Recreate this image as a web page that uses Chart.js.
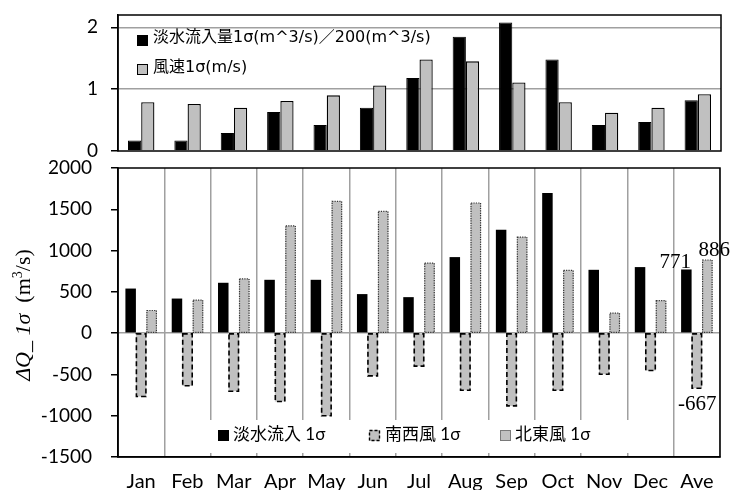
<!DOCTYPE html>
<html>
<head>
<meta charset="utf-8">
<script src="https://cdn.jsdelivr.net/npm/chart.js@4.4.1/dist/chart.umd.min.js"></script>
<style>
  html, body { margin: 0; padding: 0; background: #fff; }
  #wrap { position: relative; width: 734px; height: 490px; overflow: hidden; }
  #topChart { position: absolute; left: 0; top: -15px; }
  #bottomChart { position: absolute; left: 0; top: 130px; }
</style>
</head>
<body>
<div id="wrap">
  <canvas id="topChart" width="734" height="196"></canvas>
  <canvas id="bottomChart" width="734" height="360"></canvas>
</div>
<script>
// Months plus the annual average
const months = ['Jan', 'Feb', 'Mar', 'Apr', 'May', 'Jun', 'Jul', 'Aug', 'Sep', 'Oct', 'Nov', 'Dec', 'Ave'];

// Upper panel: standard deviations (scaled inflow, wind speed)
const inflowScaled = [0.17, 0.17, 0.29, 0.63, 0.42, 0.70, 1.18, 1.85, 2.08, 1.48, 0.42, 0.47, 0.82];
const windSpeed    = [0.79, 0.76, 0.70, 0.81, 0.90, 1.06, 1.48, 1.45, 1.11, 0.79, 0.62, 0.70, 0.92];
const topTicks = [0, 1, 2];

// Lower panel: ΔQ standard deviations (m^3/s)
const inflowSigma = [540, 419, 610, 646, 646, 473, 436, 921, 1252, 1697, 767, 800, 771];
const swWindSigma = [-768, -638, -703, -828, -1001, -517, -400, -691, -881, -691, -497, -453, -667];
const neWindSigma = [274, 400, 658, 1300, 1595, 1474, 848, 1576, 1164, 759, 242, 395, 886];
const bottomTicks = [-1500, -1000, -500, 0, 500, 1000, 1500, 2000];

const topLegend = ['淡水流入量1σ(m^3/s)／200(m^3/s)', '風速1σ(m/s)'];
const bottomLegend = ['淡水流入 1σ', '南西風 1σ', '北東風 1σ'];

const GRAY = '#c0c0c0';
const GRID = '#a0a0a0';
const TICK_FONT = 'Lato, "Noto Sans CJK JP", sans-serif';
const TOP_LEGEND_FONT = '"DejaVu Sans", "Noto Sans CJK JP", sans-serif';
const LEGEND_FONT = 'Lato, "Noto Sans CJK JP", sans-serif';

// Black frame round the plot area
const framePlugin = {
  id: 'frame',
  afterDraw(chart) {
    const { ctx, chartArea: a } = chart;
    ctx.save();
    ctx.strokeStyle = '#000';
    ctx.lineWidth = 1.5;
    ctx.strokeRect(a.left, a.top, a.right - a.left, a.bottom - a.top);
    ctx.restore();
  }
};

// Legend inside the upper plot
const topLegendPlugin = {
  id: 'topLegend',
  afterDraw(chart) {
    const ctx = chart.ctx;
    const top = chart.chartArea.top;
    ctx.save();
    ctx.font = '16px ' + TOP_LEGEND_FONT;
    ctx.textBaseline = 'middle';
    ctx.fillStyle = '#000';
    ctx.fillRect(137, top + 20, 11, 11);
    ctx.fillText(topLegend[0], 153, top + 23);
    ctx.fillStyle = GRAY;
    ctx.fillRect(137, top + 49, 11, 11);
    ctx.strokeStyle = '#000';
    ctx.lineWidth = 1;
    ctx.strokeRect(137.5, top + 49.5, 10, 10);
    ctx.fillStyle = '#000';
    ctx.fillText(topLegend[1], 153, top + 53);
    ctx.restore();
  }
};

// Dashed / dotted outlines for the wind bars
const outlinePlugin = {
  id: 'outline',
  afterDatasetsDraw(chart) {
    const ctx = chart.ctx;
    const styles = [
      { index: 1, dash: [5, 3], width: 1.6, color: '#000' },
      { index: 2, dash: [1.2, 1.2], width: 1.2, color: '#333' }
    ];
    ctx.save();
    styles.forEach(s => {
      const meta = chart.getDatasetMeta(s.index);
      meta.data.forEach(bar => {
        const p = bar.getProps(['x', 'y', 'base', 'width'], true);
        const top = Math.min(p.y, p.base);
        const bottom = Math.max(p.y, p.base);
        ctx.setLineDash(s.dash);
        ctx.lineWidth = s.width;
        ctx.strokeStyle = s.color;
        ctx.strokeRect(p.x - p.width / 2 + 0.5, top, p.width - 1, bottom - top);
      });
    });
    ctx.restore();
  }
};

// Legend box, axis title and value labels of the lower plot
const bottomExtrasPlugin = {
  id: 'bottomExtras',
  afterDraw(chart) {
    const ctx = chart.ctx;
    const a = chart.chartArea;
    ctx.save();

    // legend
    const ly = a.bottom - 22;
    ctx.fillStyle = '#fff';
    ctx.fillRect(205, a.bottom - 37, 435, 33);
    ctx.font = '17px ' + LEGEND_FONT;
    ctx.textBaseline = 'middle';
    ctx.fillStyle = '#000';
    ctx.fillRect(218, ly - 5, 11, 11);
    ctx.fillText(bottomLegend[0], 233, ly);

    ctx.fillStyle = GRAY;
    ctx.fillRect(369, ly - 5, 11, 11);
    ctx.setLineDash([3, 2]);
    ctx.strokeStyle = '#000';
    ctx.lineWidth = 1.4;
    ctx.strokeRect(369.5, ly - 4.5, 10, 10);
    ctx.setLineDash([]);
    ctx.fillStyle = '#000';
    ctx.fillText(bottomLegend[1], 385, ly);

    ctx.fillStyle = GRAY;
    ctx.fillRect(500, ly - 5, 11, 11);
    ctx.setLineDash([1, 1]);
    ctx.strokeStyle = '#333';
    ctx.lineWidth = 1;
    ctx.strokeRect(500.5, ly - 4.5, 10, 10);
    ctx.setLineDash([]);
    ctx.fillStyle = '#000';
    ctx.fillText(bottomLegend[2], 515, ly);

    // value labels on the average bars
    const last = months.length - 1;
    const inflowBar = chart.getDatasetMeta(0).data[last];
    const swBar = chart.getDatasetMeta(1).data[last];
    const neBar = chart.getDatasetMeta(2).data[last];
    ctx.font = '21px "Liberation Serif", "Times New Roman", serif';
    ctx.textAlign = 'center';
    ctx.textBaseline = 'alphabetic';
    ctx.fillStyle = '#000';
    ctx.fillText(String(inflowSigma[last]), inflowBar.x - 11, inflowBar.y - 1);
    ctx.fillText(String(neWindSigma[last]), neBar.x + 7, neBar.y - 4);
    ctx.fillText(String(swWindSigma[last]), swBar.x + 0.5, swBar.y + 22);

    // rotated y-axis title
    ctx.translate(30, a.top + 147);
    ctx.rotate(-Math.PI / 2);
    ctx.textAlign = 'left';
    const italic = 'italic 22px "Liberation Serif", "Times New Roman", serif';
    const roman = '22px "Liberation Serif", "Times New Roman", serif';
    const small = '14px "Liberation Serif", "Times New Roman", serif';
    const parts = [
      { t: 'ΔQ_ 1σ', f: italic, dy: 0 },
      { t: '  (m', f: roman, dy: 0 },
      { t: '3', f: small, dy: -8 },
      { t: '/s)', f: roman, dy: 0 }
    ];
    let total = 0;
    parts.forEach(p => { ctx.font = p.f; p.w = ctx.measureText(p.t).width; total += p.w; });
    let x = -total / 2;
    parts.forEach(p => { ctx.font = p.f; ctx.fillText(p.t, x, p.dy); x += p.w; });

    ctx.restore();
  }
};

new Chart(document.getElementById('topChart'), {
  type: 'bar',
  data: {
    labels: months,
    datasets: [
      { label: topLegend[0], data: inflowScaled, backgroundColor: '#000', borderColor: '#000', borderWidth: 1 },
      { label: topLegend[1], data: windSpeed, backgroundColor: GRAY, borderColor: '#000', borderWidth: 1.3 }
    ]
  },
  options: {
    responsive: false,
    animation: false,
    datasets: { bar: { categoryPercentage: 0.57, barPercentage: 1 } },
    layout: { padding: { left: 0, right: 13, top: 30, bottom: 30 } },
    plugins: { legend: { display: false }, tooltip: { enabled: false } },
    scales: {
      x: { display: false },
      y: {
        min: 0,
        max: 2.2,
        afterBuildTicks: s => { s.ticks = topTicks.map(v => ({ value: v })); },
        ticks: { color: '#000', font: { family: TICK_FONT, size: 19 }, padding: 13, callback: v => String(v) },
        grid: {
          color: c => (c.tick && c.tick.value === 0 ? 'rgba(0,0,0,0)' : GRID),
          lineWidth: 1.5,
          tickColor: '#000',
          tickLength: 7
        },
        border: { color: '#000', width: 1.5 },
        afterFit: s => { s.width = 118; }
      }
    }
  },
  plugins: [framePlugin, topLegendPlugin]
});

new Chart(document.getElementById('bottomChart'), {
  type: 'bar',
  data: {
    labels: months,
    datasets: [
      { label: bottomLegend[0], data: inflowSigma, backgroundColor: '#000', borderWidth: 0 },
      { label: bottomLegend[1], data: swWindSigma, backgroundColor: GRAY, borderWidth: 0 },
      { label: bottomLegend[2], data: neWindSigma, backgroundColor: GRAY, borderWidth: 0 }
    ]
  },
  options: {
    responsive: false,
    animation: false,
    datasets: { bar: { categoryPercentage: 0.68, barPercentage: 1 } },
    layout: { padding: { left: 0, right: 14, top: 38, bottom: 0 } },
    plugins: { legend: { display: false }, tooltip: { enabled: false } },
    scales: {
      x: {
        grid: { display: true, offset: true, color: GRID, lineWidth: 1.5, drawTicks: false },
        ticks: { color: '#000', font: { family: TICK_FONT, size: 20 }, padding: 13 },
        border: { color: '#000', width: 1.5 },
        afterFit: s => { s.height = 33; }
      },
      y: {
        min: -1500,
        max: 2000,
        afterBuildTicks: s => { s.ticks = bottomTicks.map(v => ({ value: v })); },
        ticks: { color: '#000', font: { family: TICK_FONT, size: 19 }, padding: 19, callback: v => String(v) },
        grid: {
          color: c => (c.tick && c.tick.value === 0 ? GRID : 'rgba(0,0,0,0)'),
          lineWidth: 1.5,
          tickColor: '#000',
          tickLength: 7
        },
        border: { color: '#000', width: 1.5 },
        afterFit: s => { s.width = 118; }
      }
    }
  },
  plugins: [outlinePlugin, bottomExtrasPlugin, framePlugin]
});
</script>
</body>
</html>
